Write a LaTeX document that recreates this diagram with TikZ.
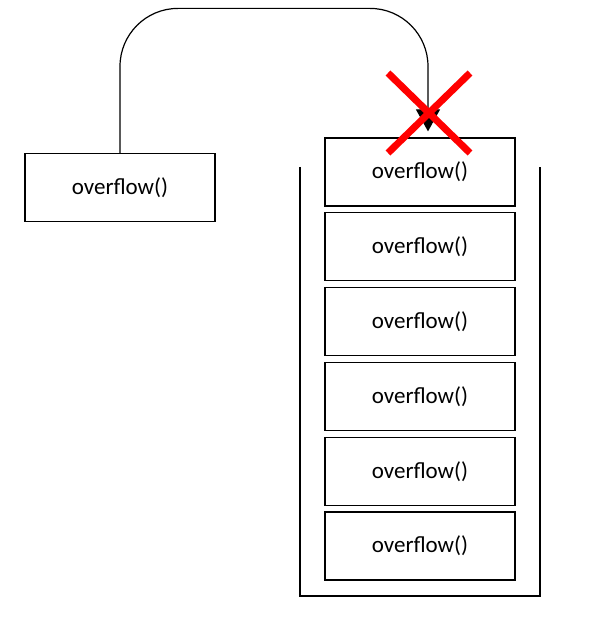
\documentclass[tikz,border=0pt]{standalone}
\usepackage{fontspec}
\setmainfont{Carlito}
\usetikzlibrary{arrows.meta}
\begin{document}
\begin{tikzpicture}
  [x=0.5pt,y=0.5pt,
   frame/.style={rectangle,draw=black,line width=0.6pt,minimum width=95pt,minimum height=34pt,inner sep=0pt,font=\fontsize{11.5}{14}\selectfont},
   call/.style={-{Triangle[width=12pt,length=11pt]},line width=0.6pt,rounded corners=29pt},
   cross/.style={draw=red,line width=3.5pt}]
\useasboundingbox (0,0) rectangle (600,617); % page size
\node at (120,429.5) (caller) [frame] {overflow()};
\node at (420,445)   (s1) [frame] {overflow()};
\node at (420,370.2) (s2) [frame] {overflow()};
\node at (420,295.4) (s3) [frame] {overflow()};
\node at (420,220.6) (s4) [frame] {overflow()};
\node at (420,145.8) (s5) [frame] {overflow()};
\node at (420,71)    (s6) [frame] {overflow()};
% stack walls
\draw [line width=1pt] (300,450) -- (300,21) -- (540,21) -- (540,450);
%
\draw [call] (caller.north) -- ++(0,144.5) -| ([xshift=4pt,yshift=3pt]s1.north);
\coordinate (hit) at (429,504);
\draw [cross] ([shift={(-41,-40)}]hit) -- ([shift={(41,40)}]hit);
\draw [cross] ([shift={(-41,40)}]hit) -- ([shift={(41,-40)}]hit);
\end{tikzpicture}
\end{document}
